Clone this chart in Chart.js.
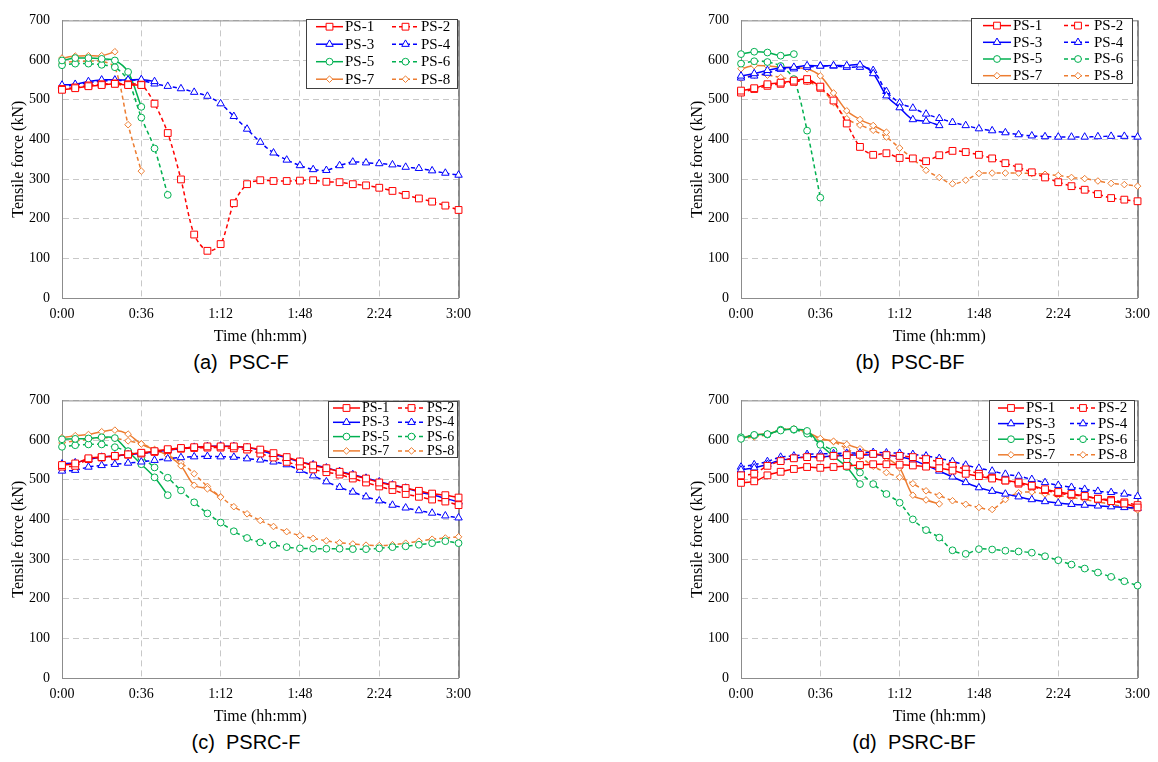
<!DOCTYPE html>
<html>
<head>
<meta charset="utf-8">
<script src="https://cdn.jsdelivr.net/npm/chart.js@4.4.1/dist/chart.umd.min.js"></script>
<style>
  html, body { margin: 0; padding: 0; background: #fff; }
  #page { position: relative; width: 1158px; height: 762px; overflow: hidden; }
  canvas { position: absolute; }
  .caption { position: absolute; font-family: "Liberation Sans", Arial, sans-serif; font-size: 20px; line-height: 23px;
             color: #000; white-space: pre; transform: translateX(-50%); }
</style>
</head>
<body>
<div id="page">
  <canvas id="chartA" width="479" height="350" style="left:0;top:0"></canvas>
  <canvas id="chartB" width="479" height="350" style="left:679px;top:0"></canvas>
  <canvas id="chartC" width="479" height="350" style="left:0;top:380px"></canvas>
  <canvas id="chartD" width="479" height="350" style="left:679px;top:380px"></canvas>
  <div class="caption" style="left:241px;top:351px">(a)  PSC-F</div>
  <div class="caption" style="left:910px;top:351px">(b)  PSC-BF</div>
  <div class="caption" style="left:246px;top:731px">(c)  PSRC-F</div>
  <div class="caption" style="left:914px;top:731px">(d)  PSRC-BF</div>
</div>
<script>
'use strict'

// readings every 6 minutes
const timeMin = [0, 6, 12, 18, 24, 30, 36, 42, 48, 54, 60, 66, 72, 78, 84, 90, 96, 102, 108, 114,
                 120, 126, 132, 138, 144, 150, 156, 162, 168, 174, 180]
const tickMinutes = [0, 36, 72, 108, 144, 180]
const tickLabels = ['0:00', '0:36', '1:12', '1:48', '2:24', '3:00']
const seriesNames = ['PS-1', 'PS-2', 'PS-3', 'PS-4', 'PS-5', 'PS-6', 'PS-7', 'PS-8']

// (a) PSC-F
const a_ps1 = [525, 529, 534, 537, 540, 537, 537]
const a_ps2 = [527, 531, 536, 539, 541, 539, 538, 490, 416, 299, 160, 119, 136, 239, 287, 297, 295, 295, 296, 297,
               293, 292, 287, 284, 278, 270, 260, 251, 243, 233, 222]
const a_ps3 = [537, 539, 546, 550, 550, 550, 551, 546]
const a_ps4 = [533, 537, 543, 547, 548, 549, 549, 540, 534, 528, 519, 509, 490, 458, 426, 393, 366, 348, 334, 324,
               322, 334, 343, 341, 339, 336, 330, 327, 321, 315, 310]
const a_ps5 = [599, 605, 605, 603, 599, 570, 482]
const a_ps6 = [587, 591, 591, 588, 582, 548, 455, 377, 260]
const a_ps7 = [605, 610, 611, 611, 621]
const a_ps8 = [592, 597, 597, 597, 581, 437, 320]

// (b) PSC-BF
const b_ps1 = [523, 529, 539, 543, 548, 552, 533]
const b_ps2 = [518, 527, 535, 540, 545, 548, 530, 498, 440, 381, 361, 365, 353, 352, 345, 360, 371, 368, 361, 352,
               340, 329, 317, 304, 292, 282, 273, 262, 252, 248, 244]
const b_ps3 = [560, 566, 574, 580, 582, 586, 585, 586, 586, 588, 566, 510, 480, 450, 446, 435]
const b_ps4 = [555, 560, 567, 577, 578, 582, 585, 585, 582, 582, 574, 521, 492, 479, 464, 453, 443, 435, 427, 422,
               417, 412, 409, 407, 406, 406, 406, 407, 408, 408, 406]
const b_ps5 = [615, 621, 619, 611, 615]
const b_ps6 = [591, 597, 595, 585, 552, 422, 253]
const b_ps7 = [578, 586, 585, 582, 581, 578, 560, 517, 472, 450, 435, 418]
const b_ps8 = [554, 562, 562, 556, 551, 546, 529, 493, 452, 436, 423, 406, 378, 351, 322, 304, 288, 297, 314, 315,
               315, 315, 314, 312, 309, 304, 301, 295, 289, 286, 282]

// (c) PSRC-F
const c_ps1 = [537, 541, 554, 557, 560, 564, 568, 572, 577, 580, 582, 584, 584, 584, 582, 576, 567, 557, 546, 536,
               529, 520, 511, 503, 493, 486, 479, 472, 465, 461, 455]
const c_ps2 = [533, 535, 552, 556, 559, 563, 566, 570, 575, 578, 580, 581, 581, 579, 576, 566, 556, 545, 535, 526,
               519, 513, 503, 493, 483, 474, 464, 457, 450, 445, 436]
const c_ps3 = [540, 543, 551, 557, 560, 563, 566, 570, 574, 579, 582, 584, 585, 584, 581, 574, 564, 555, 545, 538,
               530, 521, 513, 504, 495, 487, 479, 469, 462, 453, 444]
const c_ps4 = [522, 524, 532, 536, 539, 542, 545, 549, 553, 556, 558, 559, 558, 557, 553, 550, 545, 538, 524, 510,
               495, 481, 469, 457, 447, 436, 429, 422, 416, 409, 404]
const c_ps5 = [602, 603, 604, 607, 605, 572, 539, 506, 461]
const c_ps6 = [583, 587, 589, 589, 582, 571, 556, 531, 505, 473, 443, 415, 392, 370, 353, 342, 336, 330, 327, 326,
               326, 326, 325, 325, 327, 330, 332, 336, 340, 345, 340]
const c_ps7 = [606, 611, 614, 621, 625, 615, 590, 576, 561, 535, 486, 477, 456]
const c_ps8 = [593, 598, 602, 606, 604, 598, 591, 576, 562, 543, 515, 483, 457, 432, 414, 397, 382, 369, 359, 352,
               346, 341, 338, 335, 334, 336, 340, 345, 350, 353, 356]

// (d) PSRC-BF
const d_ps1 = [492, 496, 511, 520, 527, 532, 530, 532, 535, 537, 539, 539, 538, 536, 533, 529, 523, 515, 509, 503,
               498, 493, 485, 476, 469, 464, 459, 452, 446, 440, 430]
const d_ps2 = [511, 515, 535, 547, 554, 557, 556, 560, 562, 563, 565, 562, 560, 557, 552, 545, 535, 526, 515, 505,
               498, 490, 483, 474, 466, 462, 458, 452, 449, 443, 436]
const d_ps3 = [525, 530, 539, 549, 554, 558, 558, 560, 562, 562, 563, 562, 558, 550, 536, 522, 507, 493, 480, 471,
               464, 457, 450, 445, 441, 438, 436, 434, 432, 430, 428]
const d_ps4 = [532, 538, 546, 557, 560, 564, 565, 566, 567, 568, 569, 568, 567, 564, 560, 554, 546, 537, 529, 522,
               514, 509, 501, 493, 486, 481, 476, 471, 468, 464, 458]
const d_ps5 = [603, 613, 615, 624, 627, 623, 588, 559, 532, 489]
const d_ps6 = [607, 612, 614, 626, 626, 616, 590, 573, 550, 518, 489, 464, 442, 400, 373, 354, 322, 313, 325, 324,
               321, 319, 316, 307, 297, 286, 276, 266, 255, 244, 233]
const d_ps7 = [605, 613, 616, 625, 628, 620, 604, 597, 589, 578, 567, 555, 530, 461, 449, 439]
const d_ps8 = [603, 608, 614, 626, 628, 617, 603, 596, 578, 558, 534, 518, 506, 490, 472, 460, 447, 438, 430, 425,
               450, 467, 469, 464, 460, 455, 450, 444, 438, 432, 424]

const RED = '#ff0000', BLUE = '#0000ff', GREEN = '#00b050', ORANGE = '#ed7d31'
const seriesStyle = [
    {color: RED, dashed: false, marker: 'rect', radius: 4.8},
    {color: RED, dashed: true, marker: 'rect', radius: 4.8},
    {color: BLUE, dashed: false, marker: 'triangle', radius: 4.3},
    {color: BLUE, dashed: true, marker: 'triangle', radius: 4.3},
    {color: GREEN, dashed: false, marker: 'circle', radius: 3.4},
    {color: GREEN, dashed: true, marker: 'circle', radius: 3.4},
    {color: ORANGE, dashed: false, marker: 'rectRot', radius: 3.3},
    {color: ORANGE, dashed: true, marker: 'rectRot', radius: 3.3}
]

const SERIF = '"Liberation Serif", "Times New Roman", serif'

// legend box in a white frame, two columns, drawn over the lines
const boxLegend = {
    id: 'boxLegend',
    afterDatasetsDraw(chart, args, opts) {
        const ctx = chart.ctx
        ctx.save()
        ctx.fillStyle = '#fff'
        ctx.fillRect(opts.x, opts.y, opts.w, opts.h)
        ctx.strokeStyle = '#404040'
        ctx.lineWidth = 1
        ctx.strokeRect(opts.x + 0.5, opts.y + 0.5, opts.w, opts.h)
        ctx.font = opts.font + 'px ' + SERIF
        ctx.textBaseline = 'middle'
        chart.data.datasets.forEach((ds, i) => {
            const lx = opts.x + opts.pad + (i % 2) * opts.col2
            const ly = opts.y + opts.first + Math.floor(i / 2) * opts.rowH
            ctx.strokeStyle = ds.borderColor
            ctx.lineWidth = ds.borderWidth
            ctx.setLineDash(ds.borderDash)
            ctx.beginPath()
            ctx.moveTo(lx, ly)
            ctx.lineTo(lx + opts.len, ly)
            ctx.stroke()
            ctx.setLineDash([])
            ctx.fillStyle = '#fff'
            ctx.lineWidth = 1
            Chart.helpers.drawPoint(ctx, {pointStyle: ds.pointStyle, radius: ds.pointRadius, rotation: 0, borderWidth: 1},
                lx + opts.len / 2, ly)
            ctx.fillStyle = '#000'
            ctx.fillText(ds.label, lx + opts.len + 2, ly + 0.5)
        })
        ctx.restore()
    }
}

// top and right edges of the plot frame
const plotFrame = {
    id: 'plotFrame',
    beforeDatasetsDraw(chart) {
        const {ctx, chartArea: a} = chart
        ctx.save()
        ctx.lineWidth = 1
        ctx.strokeStyle = '#8c8c8c'
        ctx.beginPath()
        ctx.moveTo(a.left, a.top + 0.5)
        ctx.lineTo(a.right, a.top + 0.5)
        ctx.stroke()
        ctx.strokeStyle = '#303030'
        ctx.beginPath()
        ctx.moveTo(a.right + 0.5, a.top)
        ctx.lineTo(a.right + 0.5, a.bottom)
        ctx.stroke()
        ctx.restore()
    }
}

function makePanel(id, values, topPad, legend) {
    const datasets = values.map((vals, i) => {
        const st = seriesStyle[i]
        return {
            label: seriesNames[i],
            data: vals.map((v, k) => ({x: timeMin[k], y: v})),
            borderColor: st.color,
            backgroundColor: '#fff',
            borderWidth: 1.5,
            borderDash: st.dashed ? [4, 3] : [],
            pointStyle: st.marker,
            pointRadius: st.radius,
            pointBorderWidth: 1,
            pointBorderColor: st.color,
            pointBackgroundColor: '#fff',
            tension: 0.3,
            fill: false,
            clip: false
        }
    })
    return new Chart(document.getElementById(id), {
        type: 'line',
        data: {datasets},
        options: {
            responsive: false,
            animation: false,
            events: [],
            layout: {padding: {left: 0, right: 18, top: topPad, bottom: 0}},
            plugins: {legend: {display: false}, tooltip: {enabled: false}, boxLegend: legend},
            scales: {
                x: {
                    type: 'linear', min: 0, max: 180,
                    afterBuildTicks: s => { s.ticks = tickMinutes.map(v => ({value: v})) },
                    afterFit: s => { s.height = 350 - 298 },
                    ticks: {
                        callback: v => tickLabels[tickMinutes.indexOf(v)],
                        font: {family: SERIF, size: 14}, color: '#000', padding: 8, maxRotation: 0
                    },
                    grid: {color: '#c8c8c8', lineWidth: 1, drawTicks: false},
                    border: {display: true, color: '#8c8c8c', width: 1, dash: [6, 4]},
                    title: {display: true, text: 'Time (hh:mm)', font: {family: SERIF, size: 16}, color: '#000',
                            padding: {top: 0, bottom: 4}}
                },
                y: {
                    min: 0, max: 700,
                    afterFit: s => { s.width = 62 },
                    ticks: {stepSize: 100, font: {family: SERIF, size: 14}, color: '#000', padding: 12},
                    grid: {color: '#c8c8c8', lineWidth: 1, drawTicks: false},
                    border: {display: true, color: '#8c8c8c', width: 1, dash: [6, 4]},
                    title: {display: true, text: 'Tensile force (kN)', font: {family: SERIF, size: 16}, color: '#000',
                            padding: {top: 9, bottom: 0}}
                }
            }
        },
        plugins: [plotFrame, boxLegend]
    })
}

makePanel('chartA', [a_ps1, a_ps2, a_ps3, a_ps4, a_ps5, a_ps6, a_ps7, a_ps8], 14,
    {x: 306, y: 19, w: 151, h: 69, first: 7.7, rowH: 17.5, pad: 10, len: 27, col2: 76, font: 15})
makePanel('chartB', [b_ps1, b_ps2, b_ps3, b_ps4, b_ps5, b_ps6, b_ps7, b_ps8], 14,
    {x: 292, y: 18, w: 161, h: 65, first: 7.6, rowH: 16.7, pad: 12, len: 28, col2: 81, font: 15})
makePanel('chartC', [c_ps1, c_ps2, c_ps3, c_ps4, c_ps5, c_ps6, c_ps7, c_ps8], 15,
    {x: 328, y: 21, w: 129, h: 56, first: 7, rowH: 14.3, pad: 5, len: 27, col2: 65, font: 14})
makePanel('chartD', [d_ps1, d_ps2, d_ps3, d_ps4, d_ps5, d_ps6, d_ps7, d_ps8], 15,
    {x: 310, y: 20, w: 145, h: 62, first: 8, rowH: 15.6, pad: 9, len: 26, col2: 72, font: 15})
</script>
</body>
</html>
